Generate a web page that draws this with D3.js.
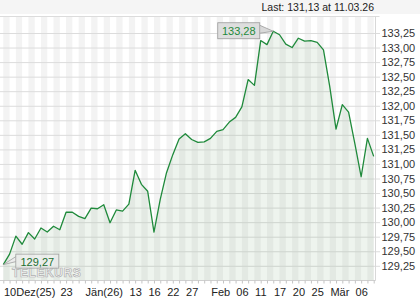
<!DOCTYPE html>
<html>
<head>
<meta charset="utf-8">
<script src="https://cdn.jsdelivr.net/npm/d3@7"></script>
<style>
  body { margin: 0; background: #fff; }
  svg text { font-family: "Liberation Sans", Arial, sans-serif; }
</style>
</head>
<body>
<svg id="chart" width="420" height="300"></svg>
<script>
// trading days shown on the chart
const dates = [
  "2025-12-10","2025-12-11","2025-12-12","2025-12-15","2025-12-16","2025-12-17","2025-12-18","2025-12-19",
  "2025-12-22","2025-12-23","2025-12-29","2025-12-30","2025-12-31","2026-01-02","2026-01-05","2026-01-06",
  "2026-01-07","2026-01-08","2026-01-09","2026-01-12","2026-01-13","2026-01-14","2026-01-15","2026-01-16",
  "2026-01-20","2026-01-21","2026-01-22","2026-01-23","2026-01-26","2026-01-27","2026-01-28","2026-01-29",
  "2026-01-30","2026-02-02","2026-02-03","2026-02-04","2026-02-05","2026-02-06","2026-02-09","2026-02-10",
  "2026-02-11","2026-02-12","2026-02-13","2026-02-17","2026-02-18","2026-02-19","2026-02-20","2026-02-23",
  "2026-02-24","2026-02-25","2026-02-26","2026-02-27","2026-03-02","2026-03-03","2026-03-04","2026-03-05",
  "2026-03-06","2026-03-09","2026-03-10","2026-03-11"
];

const prices = [
  129.27, 129.45, 129.76, 129.62, 129.82, 129.71, 129.90, 129.83, 129.93, 129.87,
  130.17, 130.17, 130.10, 130.06, 130.24, 130.23, 130.30, 129.99, 130.21, 130.19,
  130.31, 130.89, 130.65, 130.53, 129.83, 130.39, 130.85, 131.16, 131.43, 131.52,
  131.42, 131.37, 131.38, 131.44, 131.56, 131.59, 131.72, 131.80, 131.98, 132.45,
  132.35, 133.12, 133.05, 133.28, 133.22, 133.06, 133.00, 133.16, 133.11, 133.12,
  133.09, 132.96, 132.33, 131.60, 132.02, 131.89, 131.35, 130.78, 131.44, 131.13
];

const yTickValues = [129.25, 129.5, 129.75, 130, 130.25, 130.5, 130.75, 131, 131.25,
  131.5, 131.75, 132, 132.25, 132.5, 132.75, 133, 133.25];

const xTickDates = ["2025-12-10","2025-12-23","2026-01-02","2026-01-13","2026-01-16","2026-01-22",
  "2026-01-27","2026-02-02","2026-02-06","2026-02-11","2026-02-17","2026-02-20","2026-02-25",
  "2026-03-02","2026-03-06"];
const xTickLabels = ["10Dez(25)","23","Jän(26)","13","16","22","27","Feb","06","11","17","20","25","Mär","06"];

const lastText = "Last: 131,13 at 11.03.26";

const svg = d3.select("#chart");
const plotTop = 16.5, plotBottom = 280.5, plotRight = 375.5;

let xScale = d3.scalePoint().domain(dates).range([3.3, 373.7]);
let yScale = d3.scaleLinear().domain([129.25, 133.25]).range([265.8, 33]);

const de = d3.formatLocale({decimal: ",", thousands: ".", grouping: [3], currency: ["", "€"]});
const fmt = de.format(".2f");

// header
svg.append("rect").attr("x", 0).attr("y", 0).attr("width", 420).attr("height", 14).attr("fill", "#f5f5f5");
svg.append("text")
  .attr("x", 374).attr("y", 11)
  .attr("text-anchor", "end")
  .attr("font-size", "10.5px")
  .attr("fill", "#222")
  .text(lastText);

// day stripes
let stripes = svg.append("g");
dates.forEach((d, i) => {
  if (i % 2 == 0 && i < dates.length - 1) {
    stripes.append("rect")
      .attr("x", xScale(d))
      .attr("y", plotTop)
      .attr("width", xScale(dates[i + 1]) - xScale(d))
      .attr("height", plotBottom - plotTop)
      .attr("fill", "#f3f3f3");
  }
});

// grid lines + y labels
let gY = svg.append("g").attr("transform", `translate(${plotRight + 4.5},0)`);
let yAxis = d3.axisRight(yScale)
  .tickValues(yTickValues)
  .tickSize(-(plotRight + 4.5))
  .tickPadding(2)
  .tickFormat(fmt);
gY.call(yAxis);
gY.select(".domain").remove();
gY.selectAll("line").attr("stroke", "#dcdcdc");
gY.selectAll("text")
  .attr("fill", "#333")
  .attr("font-size", "11px")
  .attr("x", 1.5);

// top line of plot
svg.append("line").attr("x1", 0).attr("x2", plotRight + 4).attr("y1", plotTop).attr("y2", plotTop)
  .attr("stroke", "#dcdcdc");

// area + line
let area = d3.area()
  .x((d, i) => xScale(dates[i]))
  .y0(plotBottom)
  .y1(d => yScale(d));
svg.append("path").datum(prices)
  .attr("d", area)
  .attr("fill", "#5d8f58")
  .attr("fill-opacity", 0.1);

let line = d3.line()
  .x((d, i) => xScale(dates[i]))
  .y(d => yScale(d));
svg.append("path").datum(prices)
  .attr("d", line)
  .attr("fill", "none")
  .attr("stroke", "#1f8a3b")
  .attr("stroke-width", 1.3)
  .attr("stroke-linejoin", "round");

// borders
svg.append("line").attr("x1", plotRight).attr("x2", plotRight).attr("y1", plotTop).attr("y2", plotBottom)
  .attr("stroke", "#d8d8d8");
svg.append("line").attr("x1", 0).attr("x2", plotRight).attr("y1", plotBottom).attr("y2", plotBottom)
  .attr("stroke", "#cfcfcf");

// x axis: small day ticks + labels
let gX = svg.append("g").attr("transform", `translate(0,${plotBottom})`);
let xAxis = d3.axisBottom(xScale).tickSize(3).tickFormat("");
gX.call(xAxis);
gX.select(".domain").remove();
gX.selectAll("line").attr("stroke", "#c4c4c4");

svg.append("g").selectAll("text")
  .data(xTickDates)
  .enter()
  .append("text")
  .attr("x", d => xScale(d) + 0.7)
  .attr("y", 296)
  .attr("font-size", "11px")
  .attr("fill", "#222")
  .text((d, i) => xTickLabels[i]);

// watermark (drawn under the min marker text)
svg.append("text")
  .attr("x", 12).attr("y", 276.5)
  .attr("font-size", "12px").attr("font-weight", "bold")
  .attr("fill", "#fafafa").attr("stroke", "#b0b0b0").attr("stroke-width", 0.7)
  .attr("letter-spacing", "0.6px")
  .text("TELEKURS");

// max / min markers
let iMax = d3.maxIndex(prices), iMin = d3.minIndex(prices);
let mx = xScale(dates[iMax]), my = yScale(prices[iMax]);
svg.append("path")
  .attr("d", `M${mx - 13.5},${my - 6} L${mx},${my} L${mx - 13.5},${my + 2}`)
  .attr("fill", "#d9d9d9").attr("stroke", "#9a9a9a").attr("stroke-width", 0.8);
svg.append("rect")
  .attr("x", mx - 55.5).attr("y", my - 8.5).attr("width", 42).attr("height", 16)
  .attr("fill", "#dedede").attr("stroke", "#9a9a9a").attr("stroke-width", 0.8);
svg.append("text")
  .attr("x", mx - 34.5).attr("y", my + 3.5)
  .attr("text-anchor", "middle").attr("font-size", "11px").attr("fill", "#1f8a3b")
  .text(fmt(prices[iMax]));

let nx = xScale(dates[iMin]), ny = yScale(prices[iMin]);
svg.append("path")
  .attr("d", `M${nx + 12.5},${ny - 8} L${nx},${ny} L${nx + 12.5},${ny - 3}`)
  .attr("fill", "#ececec").attr("stroke", "#a0a0a0").attr("stroke-width", 0.8);
svg.append("rect")
  .attr("x", nx + 12.5).attr("y", ny - 10.5).attr("width", 43).attr("height", 14)
  .attr("fill", "#ececec").attr("fill-opacity", 0.6).attr("stroke", "#a0a0a0").attr("stroke-width", 0.8);
svg.append("text")
  .attr("x", nx + 34).attr("y", ny + 1)
  .attr("text-anchor", "middle").attr("font-size", "11px").attr("fill", "#1a6e30")
  .text(fmt(prices[iMin]));
</script>
</body>
</html>
